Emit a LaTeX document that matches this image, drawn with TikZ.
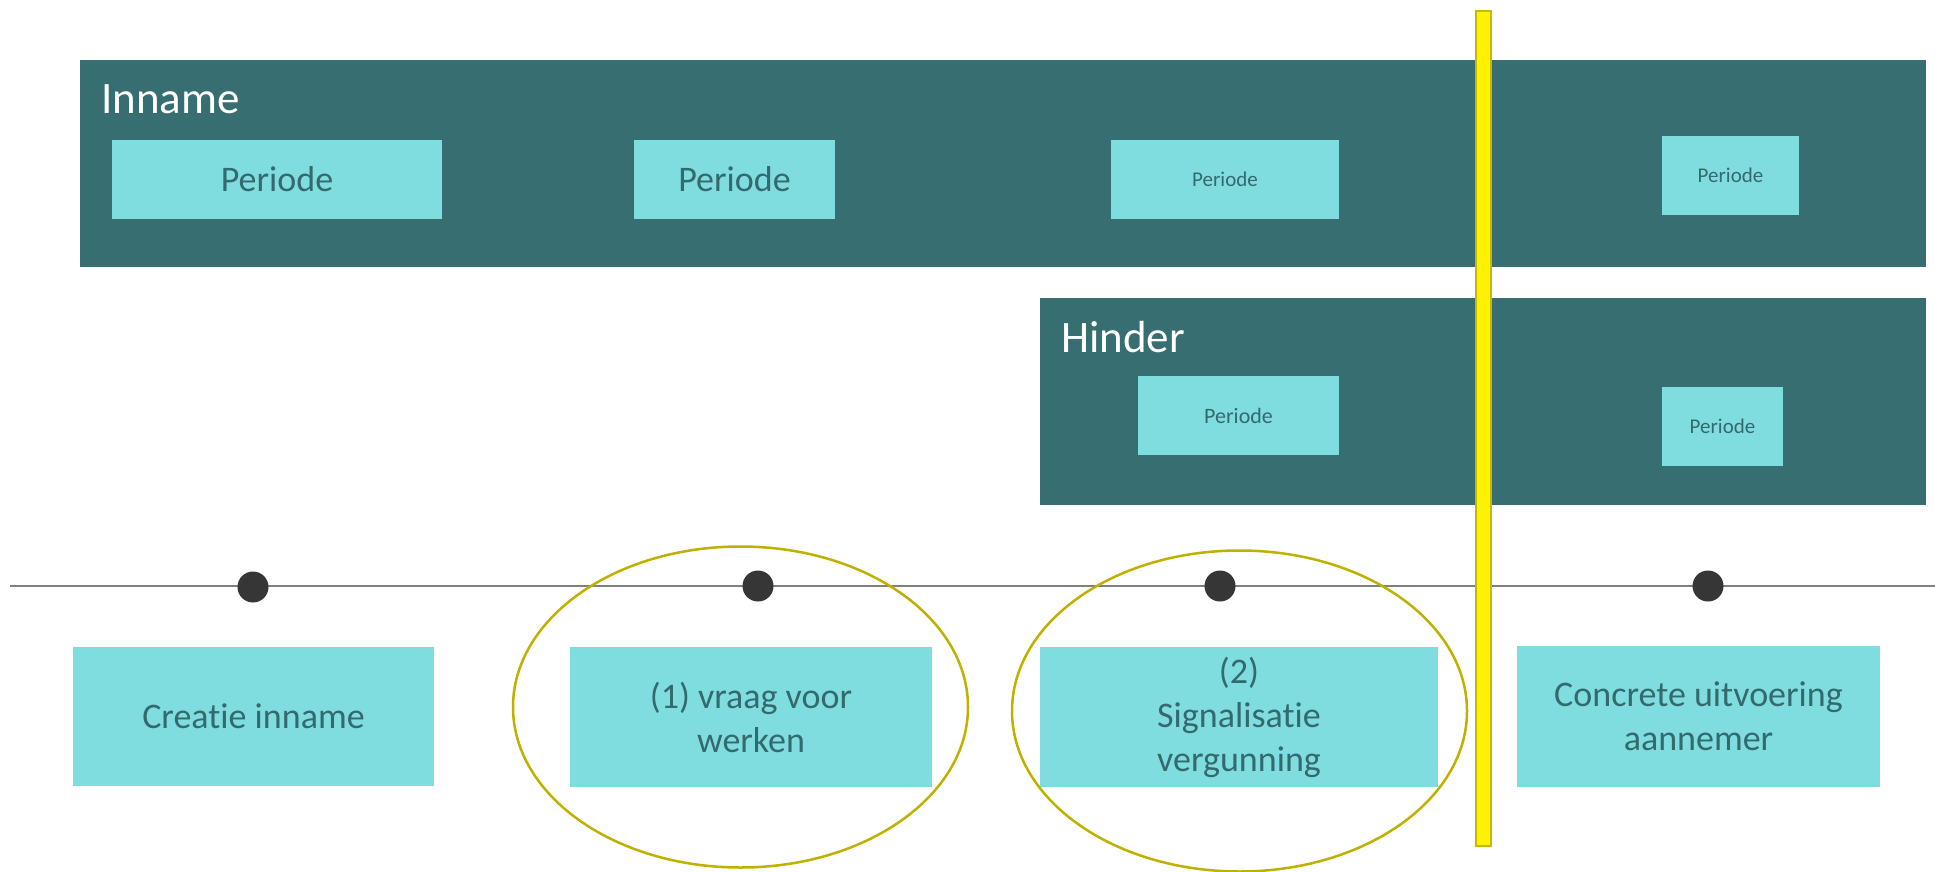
\documentclass[tikz,border=0pt]{standalone}
\usepackage{fontspec}
\setmainfont{Carlito}[Ligatures=NoCommon]
\usetikzlibrary{shapes.geometric}
\definecolor{band}{HTML}{376E72}
\definecolor{cel}{HTML}{80DDDF}
\definecolor{celtext}{HTML}{336A6E}
\definecolor{ringcol}{HTML}{BFB100}
\definecolor{barfill}{HTML}{FFF200}
\definecolor{barline}{HTML}{C9B800}
\definecolor{dotgrey}{HTML}{363636}
\definecolor{linegrey}{HTML}{808080}
\begin{document}
\begin{tikzpicture}[x=1pt,y=1pt,
  band/.style={fill=band,inner sep=0pt,anchor=north west},
  cell/.style={fill=cel,text=celtext,inner sep=0pt,align=center},
  head/.style={text=white,inner sep=0pt,anchor=base west,font=\fontsize{45}{54}\selectfont},
  big/.style={font=\fontsize{36}{44}\selectfont},
  small/.style={font=\fontsize{21}{25}\selectfont},
  dot/.style={circle,fill=dotgrey,inner sep=0pt,minimum size=31},
  ring/.style={ellipse,draw=ringcol,line width=2.5,inner sep=0pt,minimum width=455,minimum height=321}]
\useasboundingbox (0,0) rectangle (1935,-871);
\node[band,minimum width=1846,minimum height=207] (inname) at (80,-60) {};
\node[head] (innamelabel) at (101,-113) {Inname};
\node[cell,big,minimum width=330,minimum height=79] (p1) at (277,-179) {Periode};
\node[cell,big,minimum width=201,minimum height=79] (p2) at (734.5,-179) {Periode};
\node[cell,small,minimum width=228,minimum height=79] (p3) at (1225,-179.5) {Periode};
\node[cell,small,minimum width=137,minimum height=79] (p4) at (1730.5,-175.5) {Periode};
\node[band,minimum width=886,minimum height=207] (hinder) at (1040,-298) {};
\node[head] (hinderlabel) at (1061,-352) {Hinder};
\node[cell,small,font=\fontsize{22}{26}\selectfont,minimum width=201,minimum height=79] (p5) at (1238.5,-415.5) {Periode};
\node[cell,small,minimum width=121,minimum height=79] (p6) at (1722.5,-426.5) {Periode};
\coordinate (tl) at (10,-586);
\coordinate (tr) at (1935,-586);
\draw[linegrey,line width=2] (tl) -- (tr);
\node[dot] (d1) at (253,-587) {};
\node[dot] (d2) at (758,-586) {};
\node[dot] (d3) at (1220,-586) {};
\node[dot] (d4) at (1708,-586) {};
\node[cell,big,minimum width=361,minimum height=139] (creatie) at (253.5,-716.5) {Creatie inname};
\node[cell,big,minimum width=362,minimum height=140] (vraag) at (751,-717) {(1) vraag voor\\werken};
\node[cell,big,minimum width=398,minimum height=140] (signalisatie) at (1239,-717) {(2)\\Signalisatie\\vergunning};
\node[cell,big,minimum width=363,minimum height=141] (uitvoering) at (1698.5,-716.5) {Concrete uitvoering\\aannemer};
\node[ring] (ring1) at (740.5,-707) {};
\node[ring] (ring2) at (1239.5,-711) {};
\node[fill=barfill,draw=barline,line width=1.5,inner sep=0pt,minimum width=15,minimum height=835,anchor=north] (cut) at (1483.5,-10) {};
\end{tikzpicture}
\end{document}
